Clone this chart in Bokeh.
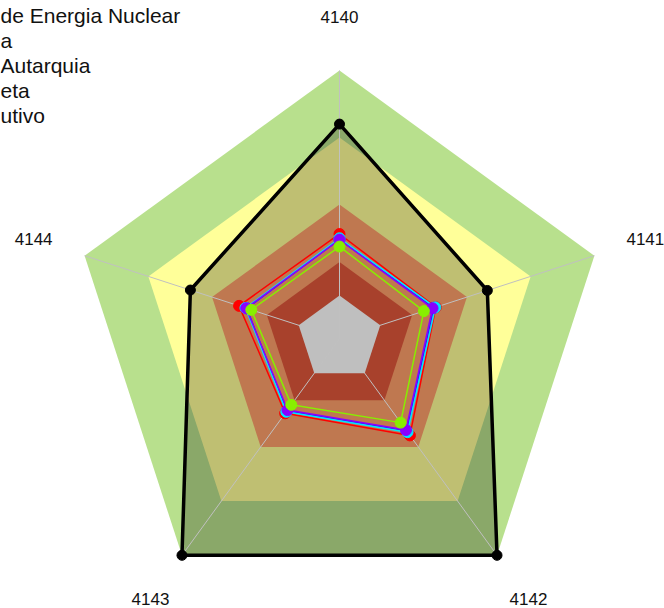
import numpy as np
from bokeh.plotting import figure
from bokeh.models import Range1d, Label, ColumnDataSource
from bokeh.core.properties import value
from bokeh.embed import file_html
from bokeh.resources import INLINE

# ---------------- data ----------------
categories = ["4140", "4141", "4142", "4143", "4144"]

band_limits = [16, 28.5, 50, 75, 100]
band_colors = ["#ffffff", "#e0573b", "#ffa06b", "#ffff99", "#b8e08d"]

target_vals = [80, 58, 100, 100, 58.5]
red_vals = [39.0, 37.8, 44.7, 34.5, 39.4]
blue_vals = [37.0, 37.0, 42.6, 33.4, 36.4]
cyan_vals = [37.4, 37.6, 43.2, 33.8, 36.9]
purple_vals = [36.9, 36.5, 42.2, 33.0, 36.6]
green_vals = [34.3, 33.1, 38.8, 30.6, 34.6]

legend_labels = ["de Energia Nuclear", "a", "Autarquia", "eta", "utivo"]

# ---------------- geometry ----------------
W, H = 664, 608
CX, CY = 339, 338      # centre of the radar in canvas pixels
R = 268                # pixel length of the full radial scale
MAXV = 100.0

angles = np.deg2rad(90 - 72 * np.arange(len(categories)))


def to_xy(vals):
    r = np.asarray(vals, dtype=float) / MAXV
    return list(r * np.cos(angles)), list(r * np.sin(angles))


p = figure(width=W, height=H, output_backend="svg", toolbar_location=None,
           x_axis_type=None, y_axis_type=None,
           x_range=Range1d(-CX / R, (W - CX) / R),
           y_range=Range1d(-(H - CY) / R, CY / R),
           min_border=0, outline_line_color=None)
p.grid.visible = False
p.background_fill_color = "white"
p.border_fill_color = "white"

# background bands (outer first)
for lim, col in reversed(list(zip(band_limits, band_colors))):
    bx, by = to_xy([lim] * len(categories))
    p.patch(bx, by, fill_color=col, line_color=None)

# target (black) series: translucent fill
tx, ty = to_xy(target_vals)
p.patch(tx, ty, fill_color="black", fill_alpha=0.25, line_color=None)

# spokes
ox, oy = to_xy([MAXV] * len(categories))
p.segment(x0=[0] * len(categories), y0=[0] * len(categories), x1=ox, y1=oy,
          line_color="#c0c0c0", line_width=1)

# target outline and points
p.line(tx + [tx[0]], ty + [ty[0]], line_color="black", line_width=3.5,
       line_join="miter")
p.scatter(tx, ty, size=10, fill_color="black", line_color="black")

series = [
    (red_vals, "#ff0000"),
    (blue_vals, "#2020ff"),
    (cyan_vals, "#00e5ff"),
    (purple_vals, "#8a00ff"),
    (green_vals, "#88ee00"),
]
for vals, col in series:
    sx, sy = to_xy(vals)
    p.line(sx + [sx[0]], sy + [sy[0]], line_color=col, line_width=1.5)
    p.scatter(sx, sy, size=11, fill_color=col, line_color=col)

# category labels
lx, ly = to_xy([120] * len(categories))
src = ColumnDataSource(dict(x=lx, y=ly, t=categories))
p.text(x="x", y="y", text="t", source=src,
       text_align="center", text_baseline="middle",
       text_font=value("Liberation Sans"), text_font_size="17px",
       text_color="#111111")

# legend texts (entries as they show, starting at the left edge)
for i, lab in enumerate(legend_labels):
    p.add_layout(Label(x=0, y=H - 15 - 25 * i, x_units="screen", y_units="screen",
                       text=lab, text_align="left", text_baseline="middle",
                       text_font="Liberation Sans", text_font_size="21px",
                       text_color="#111111"))

open("out.html", "w").write(file_html(p, INLINE))
